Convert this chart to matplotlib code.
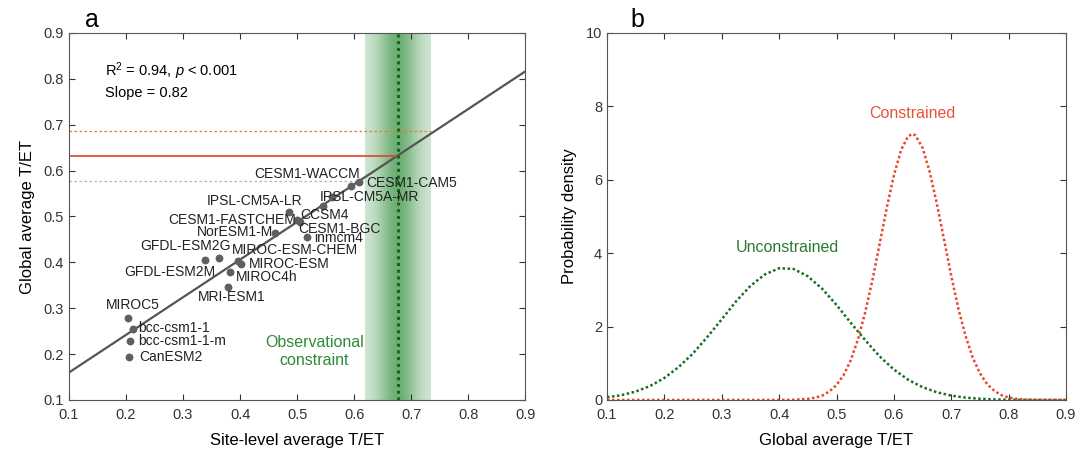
import numpy as np
import matplotlib
matplotlib.use('Agg')
import matplotlib.pyplot as plt

plt.rcParams['font.family'] = ['Liberation Sans', 'DejaVu Sans']
plt.rcParams['mathtext.fontset'] = 'custom'
plt.rcParams['mathtext.rm'] = 'Liberation Sans'
plt.rcParams['mathtext.it'] = 'Liberation Sans:italic'

# panel a: models (site-level T/ET vs global T/ET)
models = ['MIROC5', 'bcc-csm1-1', 'bcc-csm1-1-m', 'CanESM2', 'GFDL-ESM2M', 'GFDL-ESM2G',
          'MIROC4h', 'MRI-ESM1', 'MIROC-ESM-CHEM', 'MIROC-ESM', 'NorESM1-M', 'IPSL-CM5A-LR',
          'CESM1-FASTCHEM', 'CESM1-BGC', 'inmcm4', 'CCSM4', 'IPSL-CM5A-MR', 'CESM1-WACCM',
          'CESM1-CAM5']
site_tet = [0.203, 0.213, 0.207, 0.205, 0.339, 0.363, 0.382, 0.378, 0.396, 0.401, 0.462,
            0.486, 0.499, 0.505, 0.517, 0.545, 0.562, 0.594, 0.609]
glob_tet = [0.278, 0.255, 0.229, 0.193, 0.405, 0.409, 0.379, 0.347, 0.403, 0.397, 0.465,
            0.509, 0.493, 0.489, 0.455, 0.522, 0.542, 0.567, 0.575]
# label anchor (left edge, vertical centre) in data units
label_x = [0.164, 0.2205, 0.2205, 0.223, 0.197, 0.2246, 0.392, 0.326, 0.385, 0.4146, 0.324,
           0.342, 0.274, 0.502, 0.530, 0.506, 0.540, 0.425, 0.621]
label_y = [0.307, 0.257, 0.229, 0.193, 0.380, 0.436, 0.369, 0.325, 0.427, 0.396, 0.467,
           0.534, 0.493, 0.473, 0.453, 0.503, 0.543, 0.593, 0.573]

fit_x = [0.1, 0.9]
fit_y = [0.160, 0.816]
obs_x = 0.677
obs_lo, obs_hi = 0.620, 0.735
constrained_mean = 0.632
constrained_hi = 0.687
constrained_lo = 0.577

# panel b: probability density curves
unc_x = [0.1, 0.125, 0.15, 0.175, 0.2, 0.225, 0.25, 0.275, 0.3, 0.325, 0.35, 0.375, 0.4,
         0.425, 0.45, 0.475, 0.5, 0.525, 0.55, 0.575, 0.6, 0.625, 0.65, 0.675, 0.7, 0.725,
         0.75, 0.775, 0.8, 0.825, 0.85, 0.875, 0.9]
unc_y = [0.073, 0.13, 0.23, 0.38, 0.60, 0.90, 1.27, 1.72, 2.20, 2.69, 3.11, 3.42, 3.59,
         3.57, 3.37, 3.03, 2.59, 2.10, 1.63, 1.19, 0.83, 0.55, 0.35, 0.21, 0.12, 0.064,
         0.033, 0.016, 0.008, 0.003, 0.001, 0.0, 0.0]
con_x = [0.1, 0.4, 0.425, 0.45, 0.4625, 0.475, 0.4875, 0.5, 0.5125, 0.525, 0.5375, 0.55,
         0.5625, 0.575, 0.5875, 0.6, 0.6125, 0.625, 0.6325, 0.6375, 0.65, 0.6625, 0.675,
         0.6875, 0.7, 0.7125, 0.725, 0.7375, 0.75, 0.7625, 0.775, 0.7875, 0.8, 0.8125,
         0.825, 0.85, 0.9]
con_y = [0.0, 0.001, 0.006, 0.03, 0.063, 0.12, 0.23, 0.41, 0.68, 1.09, 1.66, 2.39, 3.26,
         4.24, 5.23, 6.12, 6.81, 7.19, 7.25, 7.21, 6.87, 6.21, 5.34, 4.36, 3.38, 2.48, 1.74,
         1.15, 0.73, 0.43, 0.25, 0.13, 0.07, 0.033, 0.015, 0.003, 0.0]

xticks = [0.1, 0.2, 0.3, 0.4, 0.5, 0.6, 0.7, 0.8, 0.9]

fig = plt.figure(figsize=(10.84, 4.63), dpi=100)
axa = fig.add_axes([0.0637, 0.1361, 0.4207, 0.7927])
axb = fig.add_axes([0.560, 0.1361, 0.4234, 0.7927])

for ax in (axa, axb):
    ax.tick_params(direction='in', top=True, right=True, labelsize=10.5,
                   colors='#333333', length=4)
    ax.tick_params(axis='x', pad=6)
    for s in ax.spines.values():
        s.set_color('#555555')

# --- panel a ---
gx = np.linspace(0, 1, 200)
alpha = 0.2 + 0.5 * np.exp(-((gx - 0.5) / 0.3) ** 2)
band = np.zeros((1, 200, 4))
band[..., 0] = 0.18
band[..., 1] = 0.55
band[..., 2] = 0.22
band[..., 3] = alpha
axa.imshow(band, extent=[obs_lo, obs_hi, 0.1, 0.9], aspect='auto', zorder=0,
           interpolation='bilinear')

axa.plot(fit_x, fit_y, color='#555555', lw=1.6, zorder=2)
axa.plot([0.1, obs_x], [constrained_mean] * 2, color='#e3412b', lw=1.2, zorder=2)
axa.plot([0.1, obs_hi], [constrained_hi] * 2, color='#e8782e', lw=0.9, ls=(0, (2, 2)), zorder=2)
axa.plot([0.1, obs_lo], [constrained_lo] * 2, color='#b5b5b5', lw=0.9, ls=(0, (2, 2)), zorder=2)
axa.plot([obs_x, obs_x], [0.1, 0.9], color='#16651a', lw=2.2, ls=(0, (1, 1.2)), zorder=3)

axa.scatter(site_tet, glob_tet, s=32, color='#5f5f5f', zorder=4, linewidths=0)
for name, lx, ly in zip(models, label_x, label_y):
    axa.text(lx, ly, name, fontsize=10, color='#222222', ha='left', va='center', zorder=5)

axa.text(0.163, 0.816, r'R$^2$ = 0.94, $\it{p}$ < 0.001', fontsize=10.5, va='center')
axa.text(0.163, 0.770, 'Slope = 0.82', fontsize=10.5, va='center')
axa.text(0.530, 0.206, 'Observational\nconstraint', fontsize=11.5, color='#2f8a36',
         ha='center', va='center', linespacing=1.25)

axa.set_xlim(0.1, 0.9)
axa.set_ylim(0.1, 0.9)
axa.set_xticks(xticks)
axa.set_yticks(xticks)
axa.set_xlabel('Site-level average T/ET', fontsize=12, labelpad=8)
axa.set_ylabel('Global average T/ET', fontsize=12, labelpad=6)
axa.text(0.035, 1.035, 'a', transform=axa.transAxes, fontsize=18, ha='left', va='center')

# --- panel b ---
axb.plot(unc_x, unc_y, color='#1a6e1f', lw=1.8, ls=(0, (1, 1)))
axb.plot(con_x, con_y, color='#e8452c', lw=1.8, ls=(0, (1, 1)))
axb.text(0.414, 4.15, 'Unconstrained', fontsize=11.5, color='#2c7a30', ha='center', va='center')
axb.text(0.632, 7.8, 'Constrained', fontsize=11.5, color='#e8533a', ha='center', va='center')

axb.set_xlim(0.1, 0.9)
axb.set_ylim(0, 10)
axb.set_xticks(xticks)
axb.set_yticks([0, 2, 4, 6, 8, 10])
axb.set_xlabel('Global average T/ET', fontsize=12, labelpad=8)
axb.set_ylabel('Probability density', fontsize=12, labelpad=6)
axb.text(0.05, 1.035, 'b', transform=axb.transAxes, fontsize=18, ha='left', va='center')

fig.savefig('out.png', dpi=100)
